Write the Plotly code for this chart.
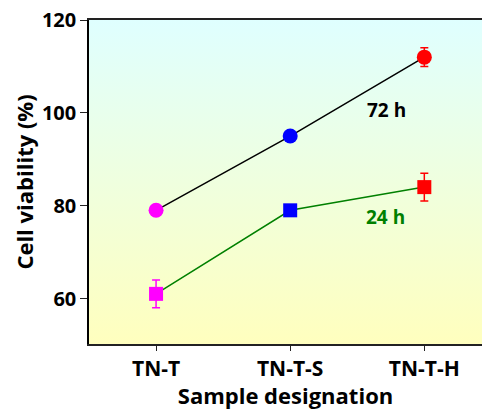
import base64
import plotly.graph_objects as go

categories = ["TN-T", "TN-T-S", "TN-T-H"]
h72_values = [79, 95, 112]
h72_errors = [1, 1, 2]
h24_values = [61, 79, 84]
h24_errors = [3, 1, 3]
point_colors = ["#FF00FF", "#0000FF", "#FF0000"]
y_ticks = [60, 80, 100, 120]

FONT = "Open Sans"

fig = go.Figure()

# connecting lines
fig.add_trace(go.Scatter(x=categories, y=h72_values, mode="lines",
                         line=dict(color="black", width=1.5), hoverinfo="skip"))
fig.add_trace(go.Scatter(x=categories, y=h24_values, mode="lines",
                         line=dict(color="#008000", width=1.5), hoverinfo="skip"))

# individual markers with matching error-bar colours
for cat, v, e, c in zip(categories, h72_values, h72_errors, point_colors):
    fig.add_trace(go.Scatter(x=[cat], y=[v], mode="markers",
                             marker=dict(symbol="circle", size=15, color=c),
                             error_y=dict(type="data", array=[e], color=c, thickness=1.5, width=4)))
for cat, v, e, c in zip(categories, h24_values, h24_errors, point_colors):
    fig.add_trace(go.Scatter(x=[cat], y=[v], mode="markers",
                             marker=dict(symbol="square", size=14, color=c),
                             error_y=dict(type="data", array=[e], color=c, thickness=1.5, width=4)))

fig.add_annotation(x=1.72, y=100.6, text="<b>72 h</b>", showarrow=False,
                   font=dict(family=FONT, size=19, color="black"))
fig.add_annotation(x=1.71, y=77.5, text="<b>24 h</b>", showarrow=False,
                   font=dict(family=FONT, size=19, color="#008000"))

svg = ('<svg xmlns="http://www.w3.org/2000/svg" width="100" height="100" preserveAspectRatio="none">'
       '<defs><linearGradient id="g" x1="0" y1="0" x2="0" y2="1">'
       '<stop offset="0" stop-color="#DFFFFF"/><stop offset="1" stop-color="#FFFFBE"/>'
       '</linearGradient></defs><rect width="100" height="100" fill="url(#g)"/></svg>')
uri = "data:image/svg+xml;base64," + base64.b64encode(svg.encode()).decode()

fig.update_layout(
    width=482, height=410,
    margin=dict(l=89, r=0, t=20, b=66),
    paper_bgcolor="white", plot_bgcolor="rgba(0,0,0,0)",
    showlegend=False,
    font=dict(family=FONT, color="black"),
    images=[dict(source=uri, xref="paper", yref="paper", x=0, y=1, sizex=1, sizey=1,
                 sizing="stretch", layer="below")],
)
fig.update_xaxes(
    type="category", range=[-0.5, 2.43],
    tickvals=categories, ticktext=[f"<b>{c}</b>" for c in categories],
    showline=True, linecolor="#222", linewidth=1.5, mirror=True,
    showgrid=False, zeroline=False,
    ticks="outside", ticklen=5, tickwidth=1.2, tickcolor="#222",
    tickfont=dict(family=FONT, size=21, color="black"),
    title=dict(text="<b>Sample designation</b>", font=dict(family=FONT, size=22), standoff=0),
)
fig.update_yaxes(
    range=[50.2, 120], tickvals=y_ticks, ticktext=[f"<b>{v}</b>" for v in y_ticks],
    showline=True, linecolor="black", linewidth=1.5,
    showgrid=False, zeroline=False,
    ticks="outside", ticklen=7, tickwidth=1.2, tickcolor="#222",
    tickfont=dict(family=FONT, size=20, color="black"),
    title=dict(text="<b>Cell viability (%)</b>", font=dict(family=FONT, size=22), standoff=2),
)

fig.write_html("out.html")
